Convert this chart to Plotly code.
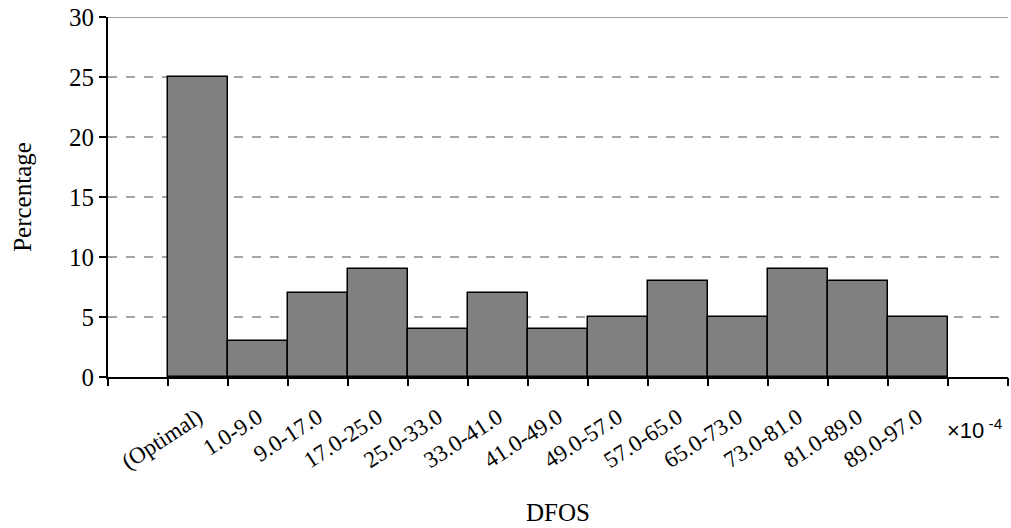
import plotly.graph_objects as go

categories = ["(Optimal)", "1.0-9.0", "9.0-17.0", "17.0-25.0", "25.0-33.0", "33.0-41.0",
              "41.0-49.0", "49.0-57.0", "57.0-65.0", "65.0-73.0", "73.0-81.0",
              "81.0-89.0", "89.0-97.0"]
percentages = [25, 3, 7, 9, 4, 7, 4, 5, 8, 5, 9, 8, 5]
y_ticks = [0, 5, 10, 15, 20, 25, 30]

positions = list(range(1, len(categories) + 1))
n_slots = len(categories) + 2
boundaries = [i - 0.5 for i in range(n_slots + 1)]
xrange_ = [-0.5, n_slots - 0.5]

FONT = "Liberation Serif"
SANS = "Liberation Sans"

fig = go.Figure()
fig.add_trace(go.Bar(
    x=positions, y=percentages, width=1.0,
    marker=dict(color="#808080", line=dict(color="black", width=1.5)),
    showlegend=False,
))
# invisible trace to activate boundary tick axis
fig.add_trace(go.Scatter(x=[xrange_[0]], y=[0], xaxis="x2", mode="markers",
                         marker=dict(opacity=0), showlegend=False, hoverinfo="skip"))

fig.update_layout(
    width=1011, height=528,
    margin=dict(l=108, r=3, t=17, b=151),
    plot_bgcolor="white", paper_bgcolor="white",
    font=dict(family=FONT, size=24, color="black"),
    bargap=0,
    xaxis=dict(
        range=xrange_, tickmode="array", tickvals=positions, ticktext=categories,
        tickangle=-33, ticks="", showgrid=False, zeroline=False,
        showline=True, linecolor="black", linewidth=2,
        ticklabelstandoff=16, automargin=False,
        tickfont=dict(family=FONT, size=23),
        title=dict(text="DFOS", font=dict(family=FONT, size=25), standoff=30),
    ),
    xaxis2=dict(
        range=xrange_, overlaying="x", side="bottom", anchor="y",
        tickmode="array", tickvals=boundaries, showticklabels=False,
        ticks="outside", ticklen=8, tickwidth=2, tickcolor="black",
        showgrid=False, zeroline=False, showline=False, automargin=False,
    ),
    yaxis=dict(
        range=[0, 30], tickmode="array", tickvals=y_ticks,
        ticks="outside", ticklen=7, tickwidth=2, tickcolor="black",
        showline=True, linecolor="black", linewidth=2,
        showgrid=True, gridcolor="#A6A6A6", griddash="dash", gridwidth=1.5,
        zeroline=False, tickfont=dict(family=FONT, size=25), automargin=False,
        title=dict(text="Percentage", font=dict(family=FONT, size=25), standoff=30),
    ),
)
fig.add_shape(type="line", xref="paper", yref="y", x0=0, x1=1, y0=30, y1=30,
              line=dict(color="#808080", width=1.5))
fig.add_annotation(xref="paper", yref="paper", x=0.997, y=-0.145,
                   xanchor="right", yanchor="middle",
                   text="×10<sup> -4</sup>", showarrow=False,
                   font=dict(family=SANS, size=22))

fig.write_html("out.html", config={"displayModeBar": False},
               post_script="document.body.style.margin='0';document.body.style.overflow='hidden';")
